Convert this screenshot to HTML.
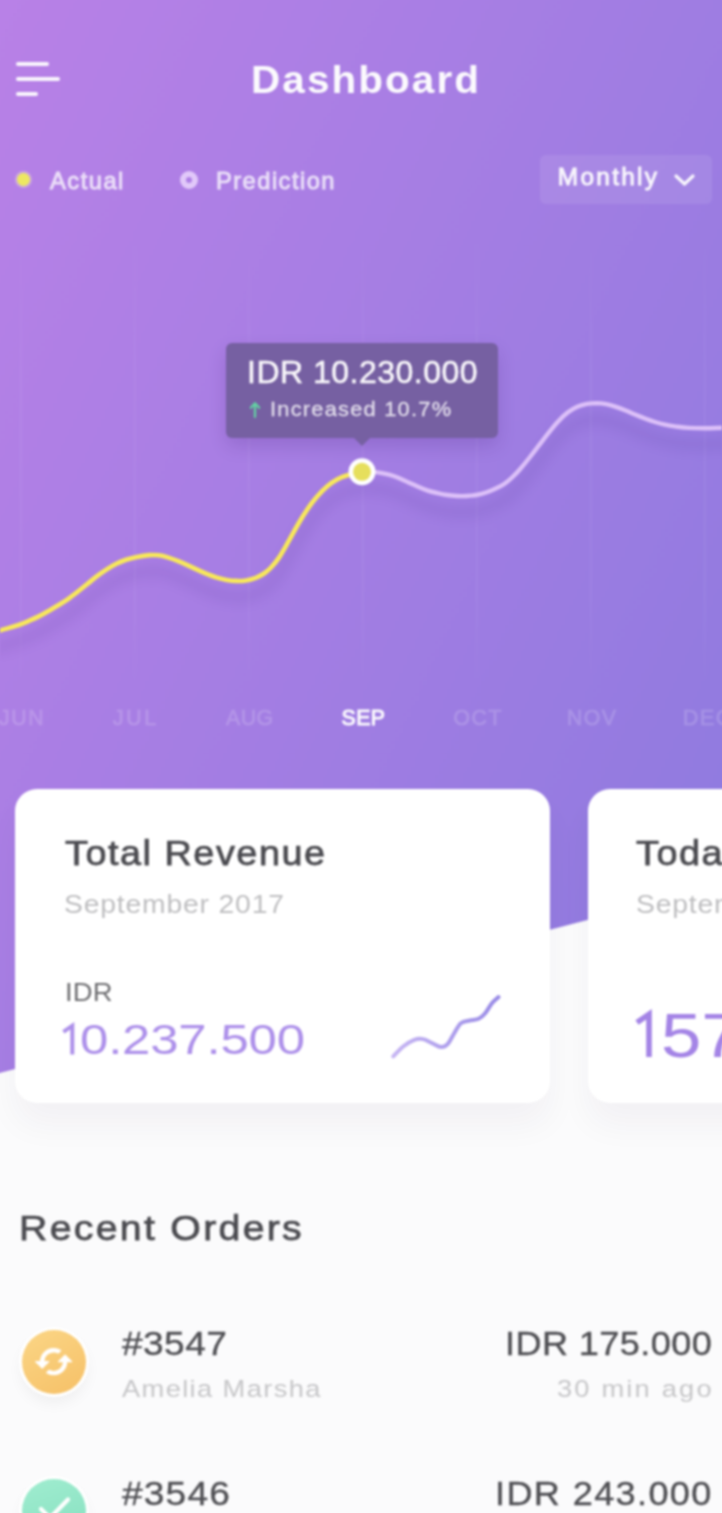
<!DOCTYPE html>
<html>
<head>
<meta charset="utf-8">
<title>Dashboard</title>
<style>
html,body{margin:0;padding:0}
html{width:722px;height:1513px;overflow:hidden}
#clip{position:absolute;left:0;top:0;width:722px;height:1513px;overflow:hidden}
body{width:722px;height:1513px;position:relative;overflow:hidden;background:#fbfbfc;font-family:"Liberation Sans",sans-serif}
.t{position:absolute;white-space:nowrap;line-height:1}
.abs{position:absolute}
#wrap{position:absolute;left:0;top:0;width:722px;height:1513px;filter:blur(.85px)}
#hero{left:-10px;top:-10px;width:742px;height:1090px;background:linear-gradient(115deg,#b981e7 0%,#8c7adf 100%);clip-path:polygon(0 0,742px 0,742px 892.4px,0 1085.6px)}
.bar{height:4px;border-radius:2px;background:rgba(255,255,255,.92);left:16px}
.card{background:#fff;border-radius:22px;top:789px;height:314px;box-shadow:0 22px 34px rgba(40,30,80,.045)}
#drop{left:540px;top:155px;width:172px;height:49px;border-radius:6px;background:rgba(255,255,255,.085)}
#tip{left:226px;top:342.5px;width:272px;height:95px;border-radius:6px;background:#7660a2;box-shadow:0 8px 18px rgba(60,30,110,.18)}
#tipar{left:353px;top:437px;width:0;height:0;border-left:9px solid transparent;border-right:9px solid transparent;border-top:9.500px solid #7660a2}
.ic{width:64px;height:64px;border-radius:50%;left:22px;box-shadow:0 0 0 3px #fff,0 8px 16px rgba(0,0,0,.06)}
</style>
</head>
<body>
<div id="clip">
<div id="wrap">
<div class="abs" id="hero"></div>

<!-- hamburger -->
<div class="abs bar" style="top:61.800px;width:33px"></div>
<div class="abs bar" style="top:76.700px;width:44px"></div>
<div class="abs bar" style="top:92.200px;width:21.500px"></div>

<!-- legend dots -->
<div class="abs" style="left:15px;top:171.300px;width:17px;height:17px;border-radius:50%;background:rgba(255,255,210,.3)"></div>
<div class="abs" style="left:17px;top:173.300px;width:13px;height:13px;border-radius:50%;background:#ede862"></div>
<div class="abs" style="left:180.200px;top:171.400px;width:6px;height:6px;border-radius:50%;border:6px solid rgba(240,220,255,.78)"></div>

<!-- dropdown -->
<div class="abs" id="drop"></div>
<svg class="abs" style="left:670px;top:170px" width="30" height="20" viewBox="0 0 30 20"><path d="M6 6 L14.5 14 L23 6" fill="none" stroke="#fff" stroke-opacity=".92" stroke-width="3.2" stroke-linecap="round" stroke-linejoin="round"/></svg>

<!-- chart -->
<svg class="abs" style="left:0;top:200px" width="722" height="520" viewBox="0 200 722 520">
<defs>
<filter id="sh" x="-5%" y="-20%" width="110%" height="160%"><feGaussianBlur stdDeviation="7"/></filter>
<linearGradient id="gl" x1="0" y1="0" x2="0" y2="1"><stop offset="0" stop-color="#fff" stop-opacity="0"/><stop offset=".3" stop-color="#fff" stop-opacity=".055"/><stop offset=".8" stop-color="#fff" stop-opacity=".055"/><stop offset="1" stop-color="#fff" stop-opacity="0"/></linearGradient>
</defs>
<g fill="url(#gl)">
<rect x="20" y="230" width="1.5" height="460"/><rect x="134" y="230" width="1.5" height="460"/><rect x="248" y="230" width="1.5" height="460"/><rect x="362" y="230" width="1.5" height="460"/><rect x="476" y="230" width="1.5" height="460"/><rect x="590" y="230" width="1.5" height="460"/><rect x="704" y="230" width="1.5" height="460"/>
</g>
<g filter="url(#sh)" opacity=".2" transform="translate(0,16)" fill="none" stroke="#3a1a80" stroke-width="6"><path d="M-8.0 633.0 C-6.7 632.6,-2.9 631.4,0.0 630.5 C2.9 629.6,6.5 628.6,9.7 627.6 C12.9 626.6,16.2 625.8,19.4 624.7 C22.6 623.6,25.9 622.2,29.1 620.8 C32.3 619.4,35.6 618.0,38.8 616.4 C42.0 614.8,45.3 613.0,48.5 611.1 C51.7 609.2,55.0 607.3,58.2 605.3 C61.4 603.3,64.7 601.4,67.9 599.1 C71.1 596.9,74.4 594.3,77.6 591.8 C80.8 589.3,84.1 586.6,87.3 584.0 C90.5 581.4,93.8 578.6,97.0 576.2 C100.2 573.8,103.5 571.5,106.7 569.4 C109.9 567.3,113.1 565.4,116.3 563.8 C119.5 562.2,122.8 560.9,126.0 559.8 C129.2 558.7,131.8 558.0,135.7 557.2 C139.5 556.4,145.2 555.4,149.1 555.1 C152.9 554.8,155.6 554.9,158.8 555.3 C162.0 555.7,165.3 556.6,168.5 557.6 C171.7 558.6,175.0 559.8,178.2 561.1 C181.4 562.4,184.7 563.8,187.9 565.3 C191.1 566.8,194.4 568.3,197.6 569.8 C200.8 571.3,204.1 572.8,207.3 574.1 C210.5 575.4,213.8 576.6,217.0 577.6 C220.2 578.6,223.5 579.4,226.7 579.9 C229.9 580.4,233.1 580.8,236.3 580.9 C239.5 581.0,242.8 580.9,246.0 580.4 C249.2 579.9,252.7 578.9,255.7 577.8 C258.7 576.6,261.4 575.2,264.0 573.5 C266.6 571.8,268.5 570.1,271.0 567.5 C273.5 564.9,275.9 562.2,278.8 557.9 C281.7 553.5,285.3 547.0,288.5 541.4 C291.7 535.8,295.0 529.5,298.2 524.0 C301.4 518.5,304.7 513.2,307.9 508.5 C311.1 503.8,314.4 499.6,317.6 495.9 C320.8 492.2,324.1 488.9,327.3 486.2 C330.5 483.4,333.8 481.2,337.0 479.4 C340.2 477.6,342.5 476.8,346.7 475.5 C350.9 474.2,359.4 472.4,362.0 471.8"/><path d="M362.0 471.8 C364.2 471.9,371.0 471.6,375.5 472.1 C380.0 472.6,385.2 473.7,389.1 474.7 C393.0 475.7,395.6 476.7,398.8 478.0 C402.0 479.3,405.3 480.9,408.5 482.4 C411.7 483.8,415.0 485.3,418.2 486.7 C421.4 488.1,424.7 489.5,427.9 490.6 C431.1 491.7,434.4 492.4,437.6 493.1 C440.8 493.8,444.1 494.5,447.3 495.0 C450.5 495.5,453.8 495.8,457.0 496.0 C460.2 496.2,463.5 496.2,466.7 496.0 C469.9 495.8,473.1 495.6,476.3 495.0 C479.5 494.4,482.8 493.6,486.0 492.5 C489.2 491.4,492.6 490.1,495.7 488.6 C498.8 487.2,501.8 485.7,504.5 483.8 C507.2 481.9,509.6 479.8,512.0 477.5 C514.4 475.2,516.3 473.4,519.1 470.2 C521.9 467.0,525.6 462.6,528.8 458.5 C532.0 454.4,535.3 450.1,538.5 445.9 C541.7 441.7,545.0 437.3,548.2 433.3 C551.4 429.3,554.7 425.1,557.9 421.7 C561.1 418.2,564.4 415.1,567.6 412.6 C570.8 410.1,574.1 408.2,577.3 406.8 C580.5 405.4,583.8 404.5,587.0 403.9 C590.2 403.3,593.5 403.1,596.7 403.1 C599.9 403.2,603.1 403.6,606.3 404.2 C609.5 404.8,612.8 405.8,616.0 406.8 C619.2 407.9,622.5 409.2,625.7 410.5 C628.9 411.8,631.8 413.2,635.0 414.5 C638.2 415.8,641.7 417.2,645.0 418.5 C648.3 419.8,651.7 421.0,655.0 422.0 C658.3 423.0,661.7 423.9,665.0 424.6 C668.3 425.3,671.0 425.8,675.0 426.4 C679.0 426.9,683.7 427.6,688.7 427.9 C693.7 428.2,699.5 428.3,705.0 428.3 C710.5 428.3,717.0 427.9,722.0 427.8 C727.0 427.7,732.8 427.6,735.0 427.5"/></g>
<path d="M362.0 471.8 C364.2 471.9,371.0 471.6,375.5 472.1 C380.0 472.6,385.2 473.7,389.1 474.7 C393.0 475.7,395.6 476.7,398.8 478.0 C402.0 479.3,405.3 480.9,408.5 482.4 C411.7 483.8,415.0 485.3,418.2 486.7 C421.4 488.1,424.7 489.5,427.9 490.6 C431.1 491.7,434.4 492.4,437.6 493.1 C440.8 493.8,444.1 494.5,447.3 495.0 C450.5 495.5,453.8 495.8,457.0 496.0 C460.2 496.2,463.5 496.2,466.7 496.0 C469.9 495.8,473.1 495.6,476.3 495.0 C479.5 494.4,482.8 493.6,486.0 492.5 C489.2 491.4,492.6 490.1,495.7 488.6 C498.8 487.2,501.8 485.7,504.5 483.8 C507.2 481.9,509.6 479.8,512.0 477.5 C514.4 475.2,516.3 473.4,519.1 470.2 C521.9 467.0,525.6 462.6,528.8 458.5 C532.0 454.4,535.3 450.1,538.5 445.9 C541.7 441.7,545.0 437.3,548.2 433.3 C551.4 429.3,554.7 425.1,557.9 421.7 C561.1 418.2,564.4 415.1,567.6 412.6 C570.8 410.1,574.1 408.2,577.3 406.8 C580.5 405.4,583.8 404.5,587.0 403.9 C590.2 403.3,593.5 403.1,596.7 403.1 C599.9 403.2,603.1 403.6,606.3 404.2 C609.5 404.8,612.8 405.8,616.0 406.8 C619.2 407.9,622.5 409.2,625.7 410.5 C628.9 411.8,631.8 413.2,635.0 414.5 C638.2 415.8,641.7 417.2,645.0 418.5 C648.3 419.8,651.7 421.0,655.0 422.0 C658.3 423.0,661.7 423.9,665.0 424.6 C668.3 425.3,671.0 425.8,675.0 426.4 C679.0 426.9,683.7 427.6,688.7 427.9 C693.7 428.2,699.5 428.3,705.0 428.3 C710.5 428.3,717.0 427.9,722.0 427.8 C727.0 427.7,732.8 427.6,735.0 427.5" fill="none" stroke="#dcc0f8" stroke-width="4.4" stroke-linecap="round"/>
<path d="M-8.0 633.0 C-6.7 632.6,-2.9 631.4,0.0 630.5 C2.9 629.6,6.5 628.6,9.7 627.6 C12.9 626.6,16.2 625.8,19.4 624.7 C22.6 623.6,25.9 622.2,29.1 620.8 C32.3 619.4,35.6 618.0,38.8 616.4 C42.0 614.8,45.3 613.0,48.5 611.1 C51.7 609.2,55.0 607.3,58.2 605.3 C61.4 603.3,64.7 601.4,67.9 599.1 C71.1 596.9,74.4 594.3,77.6 591.8 C80.8 589.3,84.1 586.6,87.3 584.0 C90.5 581.4,93.8 578.6,97.0 576.2 C100.2 573.8,103.5 571.5,106.7 569.4 C109.9 567.3,113.1 565.4,116.3 563.8 C119.5 562.2,122.8 560.9,126.0 559.8 C129.2 558.7,131.8 558.0,135.7 557.2 C139.5 556.4,145.2 555.4,149.1 555.1 C152.9 554.8,155.6 554.9,158.8 555.3 C162.0 555.7,165.3 556.6,168.5 557.6 C171.7 558.6,175.0 559.8,178.2 561.1 C181.4 562.4,184.7 563.8,187.9 565.3 C191.1 566.8,194.4 568.3,197.6 569.8 C200.8 571.3,204.1 572.8,207.3 574.1 C210.5 575.4,213.8 576.6,217.0 577.6 C220.2 578.6,223.5 579.4,226.7 579.9 C229.9 580.4,233.1 580.8,236.3 580.9 C239.5 581.0,242.8 580.9,246.0 580.4 C249.2 579.9,252.7 578.9,255.7 577.8 C258.7 576.6,261.4 575.2,264.0 573.5 C266.6 571.8,268.5 570.1,271.0 567.5 C273.5 564.9,275.9 562.2,278.8 557.9 C281.7 553.5,285.3 547.0,288.5 541.4 C291.7 535.8,295.0 529.5,298.2 524.0 C301.4 518.5,304.7 513.2,307.9 508.5 C311.1 503.8,314.4 499.6,317.6 495.9 C320.8 492.2,324.1 488.9,327.3 486.2 C330.5 483.4,333.8 481.2,337.0 479.4 C340.2 477.6,342.5 476.8,346.7 475.5 C350.9 474.2,359.4 472.4,362.0 471.8" fill="none" stroke="#f8e85a" stroke-width="4.6" stroke-linecap="round"/>
<circle cx="362" cy="471.800" r="13.500" fill="#fff"/>
<circle cx="362" cy="471.800" r="9" fill="#e6df5c"/>
</svg>

<!-- tooltip -->
<div class="abs" id="tip"></div>
<div class="abs" id="tipar"></div>
<svg class="abs" style="left:248px;top:400px" width="14" height="20" viewBox="0 0 14 20"><path d="M7 17 V3.500 M2.800 7.800 L7 3.200 L11.200 7.800" fill="none" stroke="#62d3a2" stroke-width="2.200" stroke-linecap="round" stroke-linejoin="round"/></svg>

<!-- cards -->
<div class="abs card" style="left:15px;width:535px"></div>
<div class="abs card" style="left:587.5px;width:300px"></div>
<svg class="abs" style="left:380px;top:985px" width="130" height="85" viewBox="380 985 130 85">
<defs><linearGradient id="sg" x1="0" y1="0" x2="1" y2="0"><stop offset="0" stop-color="#c6b5f3"/><stop offset="1" stop-color="#988ae6"/></linearGradient></defs>
<path d="M393.3 1056.4 C394.9 1054.8,399.7 1049.3,403.2 1046.5 C406.7 1043.7,411.0 1041.0,414.3 1039.8 C417.6 1038.6,420.2 1038.5,423.2 1039.1 C426.1 1039.6,429.0 1041.8,432.0 1043.1 C435.0 1044.4,438.4 1046.9,441.0 1047.1 C443.6 1047.3,445.4 1046.5,447.6 1044.2 C449.8 1041.9,452.0 1036.7,454.2 1033.2 C456.4 1029.7,458.3 1025.3,460.9 1023.2 C463.5 1021.1,466.8 1021.2,469.7 1020.5 C472.6 1019.8,476.0 1020.0,478.6 1018.8 C481.2 1017.6,483.0 1015.8,485.2 1013.2 C487.4 1010.6,489.7 1005.9,491.9 1003.2 C494.1 1000.5,497.4 998.0,498.5 997.0" fill="none" stroke="url(#sg)" stroke-width="4" stroke-linecap="round" stroke-linejoin="round"/>
</svg>

<svg class="abs" style="left:55px;top:1005px" width="667" height="60" viewBox="55 1005 667 60"><g fill="none" stroke-linejoin="miter" stroke-miterlimit="6">
<path d="M63.400 1031.800 L72.300 1025.700 V1054.600" stroke="#ad90ea" stroke-width="4"/>
<path d="M637 1022.500 L649 1014.300 V1057" stroke="#a484e6" stroke-width="5.600"/>
</g></svg>
<!-- order icons -->
<div class="abs ic" style="top:1330px;background:linear-gradient(150deg,#fbd686,#f6c067)"></div>
<svg class="abs" style="left:34px;top:1341.900px" width="39.300" height="39.300" viewBox="0 0 24 24"><path fill="#fff" stroke="#fff" stroke-width=".7" stroke-linejoin="round" d="M19 8l-4 4h3c0 3.310-2.690 6-6 6-1.010 0-1.970-.250-2.800-.700l-1.460 1.460C8.970 19.540 10.430 20 12 20c4.420 0 8-3.580 8-8h3l-4-4zM6 12c0-3.310 2.690-6 6-6 1.010 0 1.970.250 2.800.700l1.460-1.460C15.030 4.460 13.570 4 12 4c-4.420 0-8 3.580-8 8H1l4 4 4-4H6z"/></svg>
<div class="abs ic" style="top:1479px;background:linear-gradient(160deg,#a0edd0,#86dfbf)"></div>
<svg class="abs" style="left:34px;top:1491px" width="40" height="40" viewBox="0 0 40 40"><path d="M7 18 L16 27 L34 8.500" fill="none" stroke="#fff" stroke-width="4.200" stroke-linecap="round" stroke-linejoin="round"/></svg>

<div class="t" id="ttl" style="left:250.5px;top:60.63px;font-size:38.95px;font-weight:bold;color:#fff;letter-spacing:1.98px;opacity:.96;transform:scaleX(1.04);transform-origin:0 0">Dashboard</div>
<div class="t" id="act" style="left:50px;top:169.95px;font-size:23.69px;font-weight:normal;color:#fff;letter-spacing:1.51px;-webkit-text-stroke:.95px #fff;opacity:.74">Actual</div>
<div class="t" id="pre" style="left:216px;top:169.95px;font-size:23.69px;font-weight:normal;color:#fff;letter-spacing:1.46px;-webkit-text-stroke:.95px #fff;opacity:.74">Prediction</div>
<div class="t" id="mon" style="left:557.8px;top:165.03px;font-size:24.42px;font-weight:normal;color:#fff;letter-spacing:2.29px;-webkit-text-stroke:.95px #fff;opacity:.92">Monthly</div>
<div class="t" id="tip1" style="left:247.4px;top:357.52px;font-size:30.81px;font-weight:normal;color:#fff;letter-spacing:0.46px;-webkit-text-stroke:.5px #fff;opacity:.95;transform:scaleX(1.04);transform-origin:0 0">IDR 10.230.000</div>
<div class="t" id="tip2" style="left:270px;top:399.1px;font-size:20.2px;font-weight:normal;color:#fff;letter-spacing:1.15px;-webkit-text-stroke:.3px #fff;opacity:.78;transform:scaleX(1.08);transform-origin:0 0">Increased 10.7%</div>
<div class="t" id="m1" style="left:-1px;top:707.24px;font-size:21.22px;font-weight:normal;color:#fff;letter-spacing:1.62px;-webkit-text-stroke:.7px #fff;opacity:.17">JUN</div>
<div class="t" id="m2" style="left:113px;top:707.24px;font-size:21.22px;font-weight:normal;color:#fff;letter-spacing:2.63px;-webkit-text-stroke:.7px #fff;opacity:.17">JUL</div>
<div class="t" id="m3" style="left:226px;top:707.24px;font-size:21.22px;font-weight:normal;color:#fff;letter-spacing:0.51px;-webkit-text-stroke:.7px #fff;opacity:.17">AUG</div>
<div class="t" id="m4" style="left:341.6px;top:707.24px;font-size:21.22px;font-weight:normal;color:#fff;letter-spacing:0.47px;-webkit-text-stroke:1.05px #fff;opacity:.95">SEP</div>
<div class="t" id="m5" style="left:453.5px;top:707.24px;font-size:21.22px;font-weight:normal;color:#fff;letter-spacing:1.6px;-webkit-text-stroke:.7px #fff;opacity:.17">OCT</div>
<div class="t" id="m6" style="left:567px;top:707.24px;font-size:21.22px;font-weight:normal;color:#fff;letter-spacing:1.51px;-webkit-text-stroke:.7px #fff;opacity:.17">NOV</div>
<div class="t" id="m7" style="left:683px;top:707.24px;font-size:21.22px;font-weight:normal;color:#fff;letter-spacing:1.59px;-webkit-text-stroke:.7px #fff;opacity:.17">DEC</div>
<div class="t" id="c1t" style="left:64.5px;top:835.25px;font-size:35.03px;font-weight:normal;color:#4b4b50;letter-spacing:1.41px;-webkit-text-stroke:.75px #4b4b50;transform:scaleX(1.08);transform-origin:0 0">Total Revenue</div>
<div class="t" id="c1s" style="left:64px;top:891.79px;font-size:25.29px;font-weight:normal;color:#bebec0;letter-spacing:0.73px;;transform:scaleX(1.12);transform-origin:0 0">September 2017</div>
<div class="t" id="c1i" style="left:65px;top:979.97px;font-size:25.44px;font-weight:normal;color:#6d6d70;letter-spacing:0.18px;;transform:scaleX(1.08);transform-origin:0 0">IDR</div>
<div class="t" id="c1v" style="left:79.5px;top:1018.67px;font-size:42.44px;font-weight:normal;color:#ad90ea;letter-spacing:-0.16px;;transform:scaleX(1.2);transform-origin:0 0">0.237.500</div>
<div class="t" id="c2t" style="left:636px;top:835.25px;font-size:35.03px;font-weight:normal;color:#4b4b50;letter-spacing:1.43px;-webkit-text-stroke:.75px #4b4b50;transform:scaleX(1.08);transform-origin:0 0">Today Orders</div>
<div class="t" id="c2s" style="left:636px;top:891.79px;font-size:25.29px;font-weight:normal;color:#bebec0;letter-spacing:0.73px;;transform:scaleX(1.12);transform-origin:0 0">September 2017</div>
<div class="t" id="c2w" style="left:661px;top:1003.6px;font-size:63.08px;font-weight:normal;color:#a484e6;letter-spacing:0px;;transform:scaleX(1.15);transform-origin:0 0">57</div>
<div class="t" id="ro" style="left:18.6px;top:1211.09px;font-size:34.74px;font-weight:normal;color:#4b4b50;letter-spacing:2.03px;-webkit-text-stroke:.75px #4b4b50;transform:scaleX(1.13);transform-origin:0 0">Recent Orders</div>
<div class="t" id="o1" style="left:121.6px;top:1328.09px;font-size:32.85px;font-weight:normal;color:#4f4f53;letter-spacing:0.38px;-webkit-text-stroke:.35px #4f4f53;transform:scaleX(1.13);transform-origin:0 0">#3547</div>
<div class="t" id="o1n" style="left:121.6px;top:1376.87px;font-size:24.13px;font-weight:normal;color:#c6c6c8;letter-spacing:1.22px;;transform:scaleX(1.13);transform-origin:0 0">Amelia Marsha</div>
<div class="t" id="o1p" style="left:504.6px;top:1328.09px;font-size:32.85px;font-weight:normal;color:#4f4f53;letter-spacing:0.37px;-webkit-text-stroke:.35px #4f4f53;transform:scaleX(1.1);transform-origin:0 0">IDR 175.000</div>
<div class="t" id="o1t" style="left:556.8px;top:1376.87px;font-size:24.13px;font-weight:normal;color:#c6c6c8;letter-spacing:1.94px;;transform:scaleX(1.13);transform-origin:0 0">30 min ago</div>
<div class="t" id="o2" style="left:121.6px;top:1477.99px;font-size:32.85px;font-weight:normal;color:#4f4f53;letter-spacing:1.03px;-webkit-text-stroke:.35px #4f4f53;transform:scaleX(1.13);transform-origin:0 0">#3546</div>
<div class="t" id="o2p" style="left:495px;top:1477.99px;font-size:32.85px;font-weight:normal;color:#4f4f53;letter-spacing:1.24px;-webkit-text-stroke:.35px #4f4f53;transform:scaleX(1.1);transform-origin:0 0">IDR 243.000</div>
</div>
</div>
</body>
</html>
